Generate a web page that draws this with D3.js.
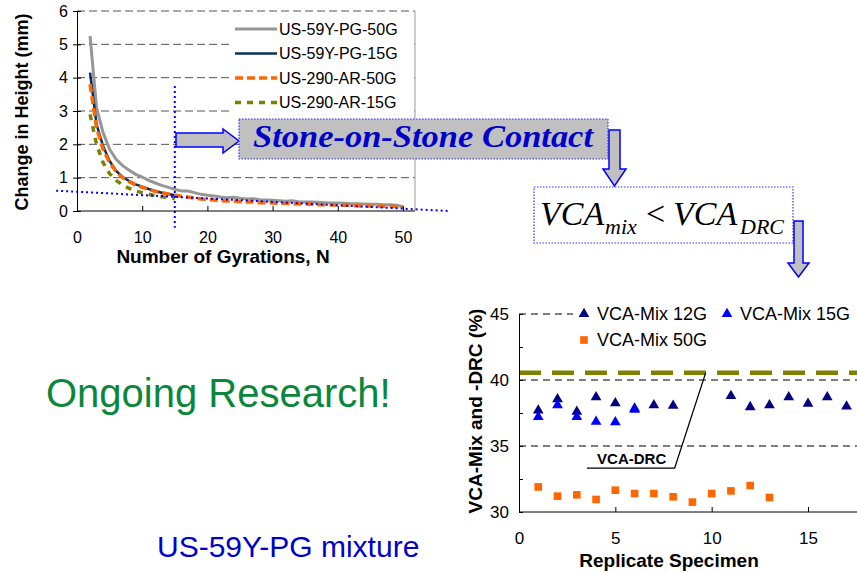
<!DOCTYPE html>
<html>
<head>
<meta charset="utf-8">
<script src="https://cdn.jsdelivr.net/npm/d3@7"></script>
<style>
  body { margin: 0; background: #fff; }
  text { font-family: Arial, "Liberation Sans", sans-serif; }
  text.eq { font-family: "Liberation Serif", "Times New Roman", serif; font-style: italic; }
</style>
</head>
<body>
<script>
let w = 857;
let h = 574;

// top-left chart: change in height vs gyrations
let gyr = [2, 3, 4, 5, 6, 7, 8, 9, 10, 11, 12, 13, 14, 15, 16, 17, 18, 19, 20, 21,
  22, 23, 24, 25, 26, 27, 28, 29, 30, 31, 32, 33, 34, 35, 36, 37, 38, 39, 40, 41,
  42, 43, 44, 45, 46, 47, 48, 49, 50];
let pg50 = [5.25, 3.1, 2.35, 1.85, 1.55, 1.36, 1.22, 1.1, 1.02, 0.92, 0.84, 0.77, 0.71, 0.65,
  0.6, 0.6, 0.55, 0.5, 0.47, 0.45, 0.42, 0.4, 0.41, 0.38, 0.36, 0.37, 0.34, 0.33, 0.32,
  0.31, 0.29, 0.31, 0.28, 0.27, 0.27, 0.26, 0.25, 0.24, 0.24, 0.23, 0.22, 0.22, 0.21,
  0.2, 0.2, 0.19, 0.19, 0.17, 0.13];
let pg15 = [4.15, 2.6, 1.95, 1.5, 1.2, 1.02, 0.9, 0.8, 0.73, 0.66, 0.6, 0.55, 0.51, 0.47];
let ar50 = [3.8, 2.5, 1.85, 1.45, 1.18, 1.0, 0.88, 0.78, 0.71, 0.64, 0.59, 0.55, 0.51,
  0.47, 0.44, 0.42, 0.39, 0.36, 0.35, 0.33, 0.31, 0.3, 0.3, 0.28, 0.27, 0.27, 0.25, 0.25,
  0.24, 0.23, 0.23, 0.22, 0.21, 0.21, 0.2, 0.19, 0.19, 0.18, 0.18, 0.17, 0.17, 0.16,
  0.15, 0.15, 0.15, 0.14, 0.14, 0.13, 0.12];
let ar15 = [2.9, 2.0, 1.45, 1.12, 0.92, 0.78, 0.68, 0.6, 0.55, 0.5, 0.46, 0.43, 0.4, 0.37];
let seriesNames = ["US-59Y-PG-50G", "US-59Y-PG-15G", "US-290-AR-50G", "US-290-AR-15G"];
let trendN = [-3.2, 57];
let trendH = [0.61, 0.0];
let sosN = 15;

// bottom-right chart: VCA per replicate
let rep12 = [1, 2, 3, 4, 5, 6, 7, 8, 11, 12, 13, 14, 15, 16, 17];
let vca12 = [37.7, 38.55, 37.6, 38.7, 38.25, 37.85, 38.1, 38.05, 38.8, 37.95, 38.1, 38.7, 38.2, 38.7, 38.0];
let rep15 = [1, 2, 3, 4, 5, 6];
let vca15 = [37.2, 38.1, 37.2, 36.85, 36.8, 37.75];
let rep50 = [1, 2, 3, 4, 5, 6, 7, 8, 9, 10, 11, 12, 13];
let vca50 = [31.9, 31.2, 31.3, 30.95, 31.65, 31.4, 31.4, 31.15, 30.75, 31.4, 31.6, 32.0, 31.1];
let vcaDrc = 40.55;
let mixNames = ["VCA-Mix 12G", "VCA-Mix 15G", "VCA-Mix 50G"];

let svg = d3.select("body").append("svg").attr("width", w).attr("height", h);

// ---------- top-left chart ----------
let x1 = d3.scaleLinear().domain([0, 50]).range([77, 403]);
let y1 = d3.scaleLinear().domain([0, 6]).range([211, 11]);
let right1 = 415;

let g1 = svg.append("g");

g1.selectAll(".grid1")
  .data([1, 2, 3, 4, 5, 6])
  .enter()
  .append("line")
  .attr("x1", x1(0))
  .attr("x2", right1)
  .attr("y1", (d) => y1(d))
  .attr("y2", (d) => y1(d))
  .attr("stroke", "#555")
  .attr("stroke-dasharray", "8,4");

g1.append("line")
  .attr("x1", right1).attr("x2", right1)
  .attr("y1", y1(6)).attr("y2", y1(0))
  .attr("stroke", "#999");

// legend background
g1.append("rect")
  .attr("x", 232).attr("y", 14)
  .attr("width", right1 - 233).attr("height", 104)
  .attr("fill", "#fff");

let line1 = d3.line().x((d) => x1(d[0])).y((d) => y1(d[1]));

let styles1 = [
  { vals: pg50, color: "#969696", width: 3, dash: null },
  { vals: pg15, color: "#0a2f5e", width: 2.5, dash: null },
  { vals: ar50, color: "#ff6600", width: 3.5, dash: "8,4" },
  { vals: ar15, color: "#808000", width: 3.5, dash: "6,6" },
];

styles1.forEach((s) => {
  g1.append("path")
    .datum(s.vals.map((v, i) => [gyr[i], v]))
    .attr("d", line1)
    .attr("fill", "none")
    .attr("stroke", s.color)
    .attr("stroke-width", s.width)
    .attr("stroke-dasharray", s.dash);
});

// trend line and 15-gyration marker
g1.append("line")
  .attr("x1", x1(trendN[0])).attr("y1", y1(trendH[0]))
  .attr("x2", x1(trendN[1])).attr("y2", y1(trendH[1]))
  .attr("stroke", "#0000ff").attr("stroke-width", 2)
  .attr("stroke-dasharray", "2,3");

g1.append("line")
  .attr("x1", x1(sosN)).attr("x2", x1(sosN))
  .attr("y1", y1(3.75)).attr("y2", y1(-0.5))
  .attr("stroke", "#0000ff").attr("stroke-width", 2)
  .attr("stroke-dasharray", "2,3");

// axes
let xAxis1 = d3.axisBottom(x1).tickValues([0, 10, 20, 30, 40, 50]).tickSizeInner(-5).tickSizeOuter(0).tickPadding(21);
let gx1 = g1.append("g").attr("transform", "translate(0," + y1(0) + ")").call(xAxis1);
gx1.select(".domain").attr("d", "M" + x1(0) + ",0H" + right1).attr("stroke", "#000");
gx1.selectAll("text").style("font-size", "16px").attr("fill", "#000");

let yAxis1 = d3.axisLeft(y1).ticks(6).tickSizeInner(4).tickSizeOuter(0).tickPadding(7);
let gy1 = g1.append("g").attr("transform", "translate(" + x1(0) + ",0)").call(yAxis1);
gy1.selectAll(".tick line").attr("x2", 4).attr("x1", -4);
gy1.selectAll("text").style("font-size", "16px").attr("fill", "#000").attr("x", -9);

g1.append("text")
  .attr("x", 223).attr("y", 263)
  .attr("text-anchor", "middle")
  .style("font-size", "19px").style("font-weight", "bold")
  .text("Number of Gyrations, N");

g1.append("text")
  .attr("transform", "translate(28,112) rotate(-90)")
  .attr("text-anchor", "middle")
  .style("font-size", "18px").style("font-weight", "bold")
  .text("Change in Height (mm)");

// legend
let leg1 = g1.selectAll(".leg1").data(seriesNames).enter().append("g")
  .attr("transform", (d, i) => "translate(235," + (29 + i * 24.5) + ")");
leg1.append("line")
  .attr("x1", 0).attr("x2", 42)
  .attr("stroke", (d, i) => styles1[i].color)
  .attr("stroke-width", (d, i) => styles1[i].width)
  .attr("stroke-dasharray", (d, i) => styles1[i].dash);
leg1.append("text")
  .attr("x", 44).attr("dy", "0.36em")
  .style("font-size", "16px")
  .text((d) => d);

// ---------- arrows and boxes ----------
let arrowFill = "#c0c0c0";
let arrowStroke = "#0000ff";

svg.append("path")
  .attr("d", "M176,133H223V129L239,141L223,153V147H176Z")
  .attr("fill", arrowFill).attr("stroke", arrowStroke).attr("stroke-width", 1.5);

svg.append("rect")
  .attr("x", 239).attr("y", 119).attr("width", 369).attr("height", 40)
  .attr("fill", arrowFill).attr("stroke", "#3333ff").attr("stroke-width", 1.2)
  .attr("stroke-dasharray", "1.5,1.5");

svg.append("text")
  .attr("x", 253).attr("y", 147)
  .attr("textLength", 340).attr("lengthAdjust", "spacingAndGlyphs")
  .style("font-family", "'Liberation Serif', 'DejaVu Serif', serif")
  .style("font-size", "32px").style("font-style", "italic").style("font-weight", "bold")
  .attr("fill", "#0000cc")
  .text("Stone-on-Stone Contact");

svg.append("path")
  .attr("d", "M609,130H620V169H626L614.5,186L603,169H609Z")
  .attr("fill", arrowFill).attr("stroke", arrowStroke).attr("stroke-width", 1.5);

svg.append("rect")
  .attr("x", 534).attr("y", 187).attr("width", 259).attr("height", 56)
  .attr("fill", "#fff").attr("stroke", "#3333ff").attr("stroke-width", 1.2)
  .attr("stroke-dasharray", "1.5,1.5");

let eq = svg.append("g").attr("fill", "#000");
eq.append("text").attr("class", "eq").attr("x", 540).attr("y", 225).style("font-size", "34px").text("VCA");
eq.append("text").attr("class", "eq").attr("x", 605).attr("y", 234).style("font-size", "22px").text("mix");
eq.append("text").attr("class", "eq").attr("x", 646).attr("y", 225).style("font-size", "34px").style("font-style", "normal").text("<");
eq.append("text").attr("class", "eq").attr("x", 673).attr("y", 225).style("font-size", "34px").text("VCA");
eq.append("text").attr("class", "eq").attr("x", 740).attr("y", 234).style("font-size", "22px").text("DRC");

svg.append("path")
  .attr("d", "M794,221H803V263H809L798.5,277L788,263H794Z")
  .attr("fill", arrowFill).attr("stroke", arrowStroke).attr("stroke-width", 1.5);

// ---------- bottom-right chart ----------
let x2 = d3.scaleLinear().domain([0, 15]).range([519, 808]);
let y2 = d3.scaleLinear().domain([30, 45]).range([512, 314]);
let g2 = svg.append("g");

g2.selectAll(".grid2")
  .data([35, 40, 45])
  .enter()
  .append("line")
  .attr("x1", x2(0)).attr("x2", w)
  .attr("y1", (d) => y2(d)).attr("y2", (d) => y2(d))
  .attr("stroke", "#000").attr("stroke-dasharray", "7,5");

// legend background
g2.append("rect")
  .attr("x", 573).attr("y", 301).attr("width", w - 573).attr("height", 55)
  .attr("fill", "#fff");

g2.append("line")
  .attr("x1", x2(0)).attr("x2", w)
  .attr("y1", y2(vcaDrc)).attr("y2", y2(vcaDrc))
  .attr("stroke", "#808000").attr("stroke-width", 4.5)
  .attr("stroke-dasharray", "22,11");

let tri = d3.symbol().type(d3.symbolTriangle).size(50);
let sq = d3.symbol().type(d3.symbolSquare).size(58);

g2.selectAll(".m12")
  .data(rep12.map((r, i) => [r, vca12[i]]))
  .enter().append("path")
  .attr("d", tri)
  .attr("transform", (d) => "translate(" + x2(d[0]) + "," + y2(d[1]) + ")")
  .attr("fill", "#000080");

g2.selectAll(".m15")
  .data(rep15.map((r, i) => [r, vca15[i]]))
  .enter().append("path")
  .attr("d", tri)
  .attr("transform", (d) => "translate(" + x2(d[0]) + "," + y2(d[1]) + ")")
  .attr("fill", "#0000ff");

g2.selectAll(".m50")
  .data(rep50.map((r, i) => [r, vca50[i]]))
  .enter().append("path")
  .attr("d", sq)
  .attr("transform", (d) => "translate(" + x2(d[0]) + "," + y2(d[1]) + ")")
  .attr("fill", "#ff6600");

// VCA-DRC callout
g2.append("path")
  .attr("d", "M" + x2(3.52) + "," + y2(33.33) + "H" + x2(8.08) + "L" + x2(9.69) + "," + y2(vcaDrc))
  .attr("fill", "none").attr("stroke", "#000").attr("stroke-width", 1.2);
g2.append("text")
  .attr("x", x2(5.85)).attr("y", y2(33.6))
  .attr("text-anchor", "middle")
  .style("font-size", "15px").style("font-weight", "bold")
  .text("VCA-DRC");

// axes
let xAxis2 = d3.axisBottom(x2).tickValues([0, 5, 10, 15]).tickSizeInner(-5).tickSizeOuter(0).tickPadding(20);
let gx2 = g2.append("g").attr("transform", "translate(0," + y2(30) + ")").call(xAxis2);
gx2.select(".domain").attr("d", "M" + x2(0) + ",0H" + w).attr("stroke", "#000");
gx2.selectAll("text").style("font-size", "17px").attr("fill", "#000");

let yAxis2 = d3.axisLeft(y2).tickValues([30, 32.5, 35, 37.5, 40, 42.5, 45]).tickSizeInner(-4).tickSizeOuter(0).tickPadding(10)
  .tickFormat((d) => (d % 5 === 0 ? d : ""));
let gy2 = g2.append("g").attr("transform", "translate(" + x2(0) + ",0)").call(yAxis2);
gy2.selectAll("text").style("font-size", "17px").attr("fill", "#000");

g2.append("text")
  .attr("x", 669).attr("y", 567)
  .attr("text-anchor", "middle")
  .style("font-size", "19px").style("font-weight", "bold")
  .text("Replicate Specimen");

g2.append("text")
  .attr("transform", "translate(482,411) rotate(-90)")
  .attr("text-anchor", "middle")
  .style("font-size", "19px").style("font-weight", "bold")
  .text("VCA-Mix and -DRC (%)");

// legend
let legPos = [[584, 314], [727, 314], [584, 340]];
let legFill = ["#000080", "#0000ff", "#ff6600"];
let leg2 = g2.selectAll(".leg2").data(mixNames).enter().append("g")
  .attr("transform", (d, i) => "translate(" + legPos[i][0] + "," + legPos[i][1] + ")");
leg2.append("path")
  .attr("d", (d, i) => (i < 2 ? tri() : sq()))
  .attr("fill", (d, i) => legFill[i]);
leg2.append("text")
  .attr("x", 13).attr("dy", "0.36em")
  .style("font-size", "18px")
  .text((d) => d);

// ---------- slide texts ----------
svg.append("text")
  .attr("x", 46).attr("y", 407)
  .style("font-size", "40px").attr("fill", "#0a873a")
  .text("Ongoing Research!");

svg.append("text")
  .attr("x", 157).attr("y", 557)
  .style("font-size", "30px").attr("fill", "#0000cc")
  .text("US-59Y-PG mixture");
</script>
</body>
</html>
